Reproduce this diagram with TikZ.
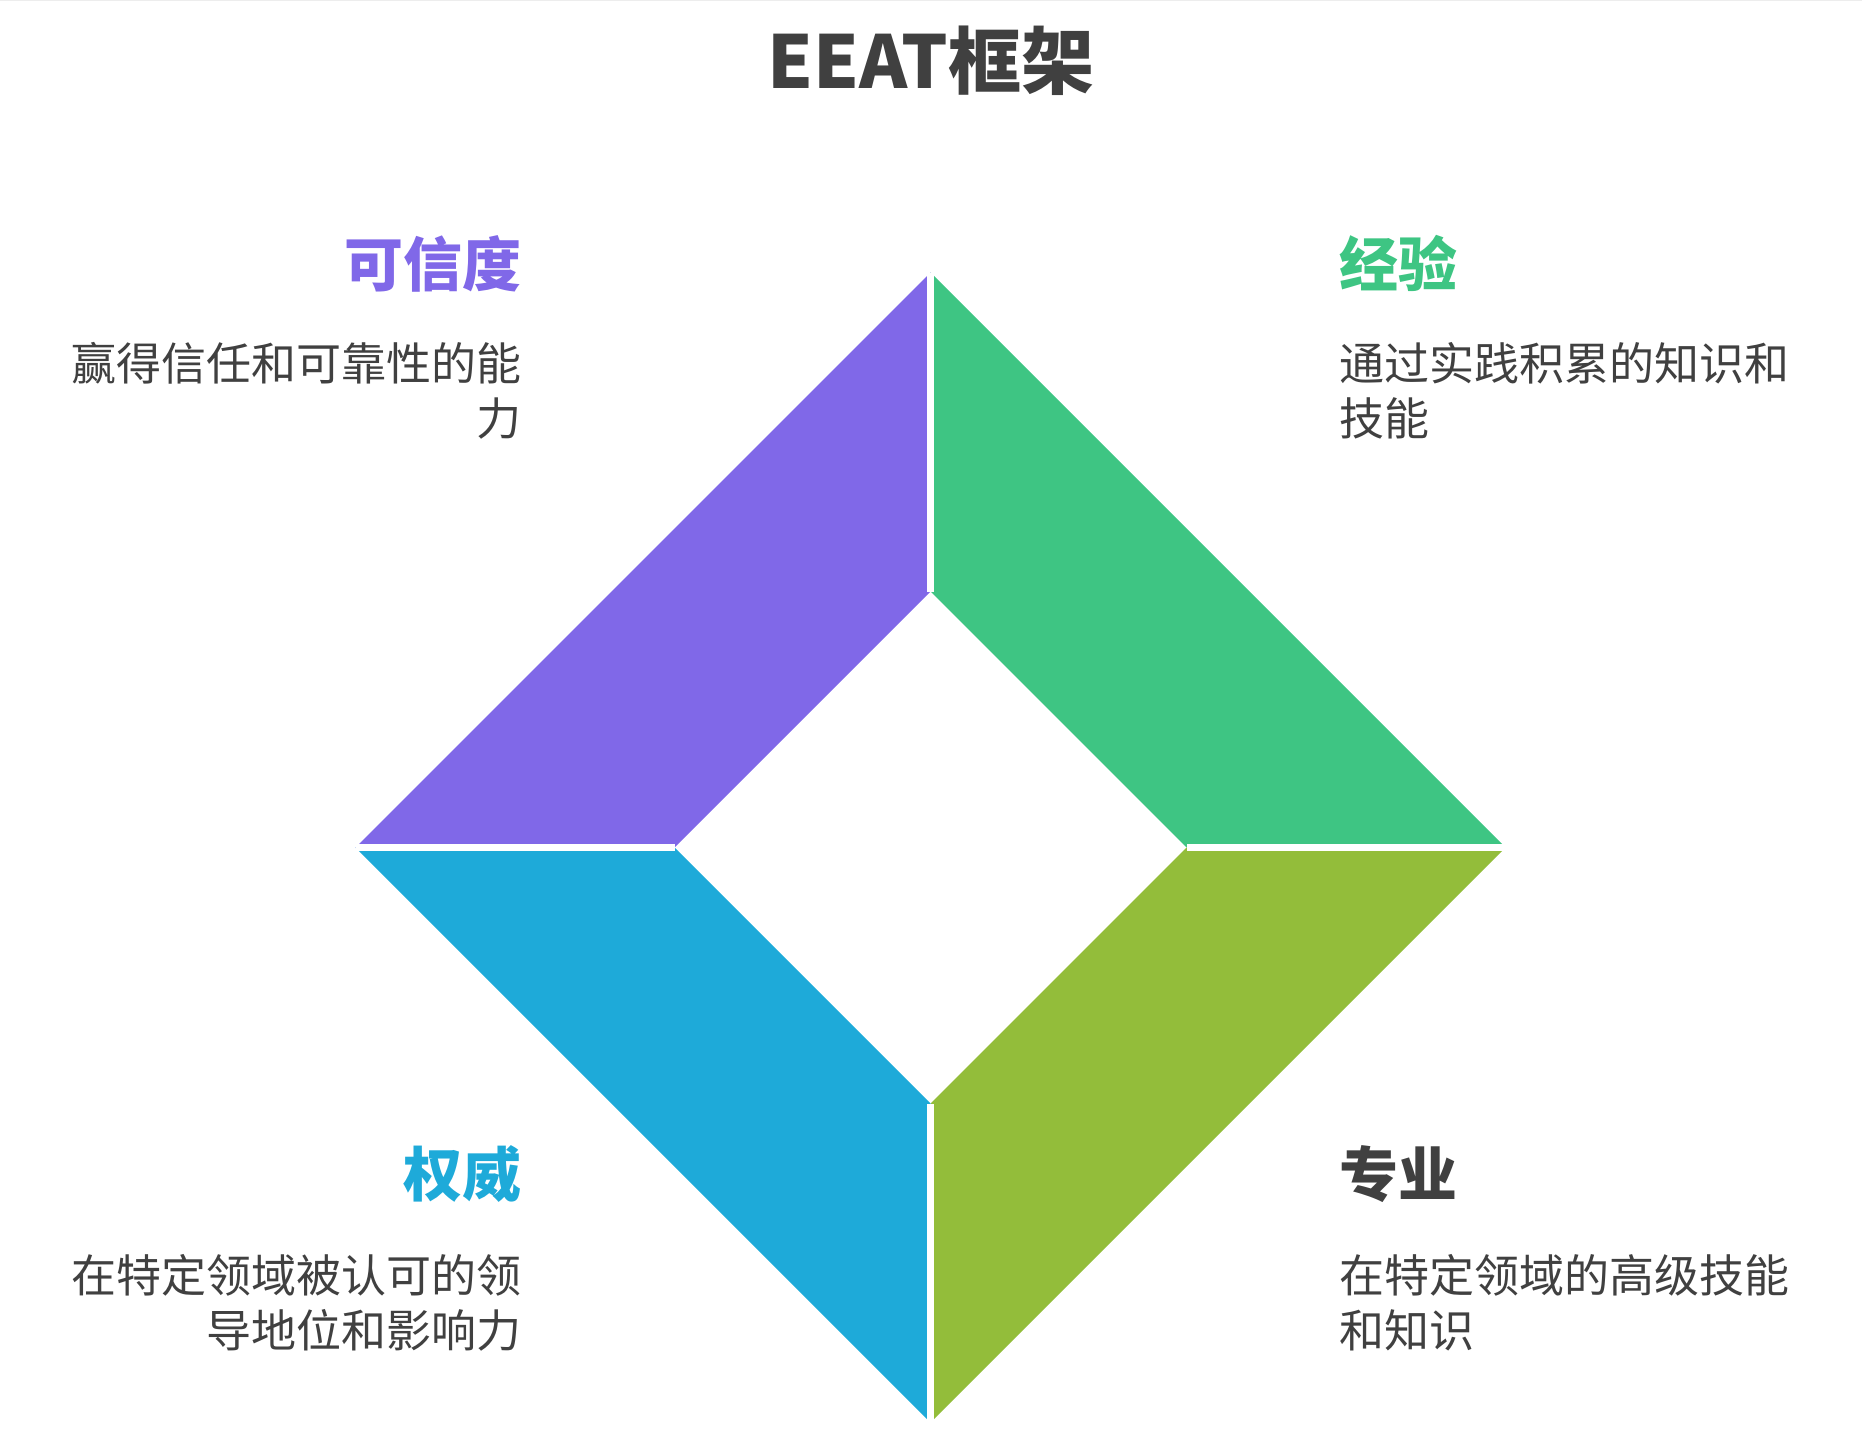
\documentclass[tikz,border=0pt]{standalone}
\usepackage{fontspec}
\setmainfont{Noto Sans CJK SC}
\definecolor{trustpurple}{HTML}{8068E8}
\definecolor{expgreen}{HTML}{3EC583}
\definecolor{authblue}{HTML}{1EAAD9}
\definecolor{proolive}{HTML}{93BD3A}
\definecolor{inkgray}{HTML}{404040}
\tikzset{
    headtext/.style={inner sep=0pt, font=\fontsize{59}{70}\selectfont\bfseries},
    bodytext/.style={inner sep=0pt, text=inkgray, font=\fontsize{45}{55}\selectfont},
}

\begin{document}
\begin{tikzpicture}[x=1pt, y=-1pt]
            \useasboundingbox (0,0) rectangle (1862,1434);
            \draw[black!7, line width=2pt] (0,0) -- (1862,0);

            % Title:
            \node[inner sep=0pt, text=inkgray, font=\fontsize{73}{80}\selectfont\bfseries] (title) at (931,61) {EEAT框架};

            % Diamond corners:
            \coordinate (top) at (930.5,272.5);
            \coordinate (rgt) at (1505.5,847.5);
            \coordinate (bot) at (930.5,1422.5);
            \coordinate (lft) at (355.5,847.5);
            \coordinate (itop) at (930.5,591.5);
            \coordinate (irgt) at (1186.5,847.5);
            \coordinate (ibot) at (930.5,1103.5);
            \coordinate (ilft) at (674.5,847.5);

            \fill[trustpurple] (lft) -- (top) -- (itop) -- (ilft) -- cycle;
            \fill[expgreen] (top) -- (rgt) -- (irgt) -- (itop) -- cycle;
            \fill[proolive] (rgt) -- (bot) -- (ibot) -- (irgt) -- cycle;
            \fill[authblue] (bot) -- (lft) -- (ilft) -- (ibot) -- cycle;
            \foreach \a/\b in {top/itop, rgt/irgt, bot/ibot, lft/ilft}
                \draw[white, line width=6.5pt] (\a) -- (\b);

            % Labels:
            \node[headtext, text=trustpurple, anchor=east] (trusthead) at (522,263.5) {可信度};
            \node[bodytext, align=right, anchor=north east] (trustbody) at (522,342) {赢得信任和可靠性的能\\力};

            \node[headtext, text=expgreen, anchor=west] (exphead) at (1339,263.5) {经验};
            \node[bodytext, align=left, anchor=north west] (expbody) at (1339,342) {通过实践积累的知识和\\技能};

            \node[headtext, text=authblue, anchor=east] (authhead) at (522,1174) {权威};
            \node[bodytext, align=right, anchor=north east] (authbody) at (522,1254) {在特定领域被认可的领\\导地位和影响力};

            \node[headtext, text=inkgray, anchor=west] (prohead) at (1339,1174) {专业};
            \node[bodytext, align=left, anchor=north west] (probody) at (1339,1254) {在特定领域的高级技能\\和知识};
        \end{tikzpicture}
\end{document}
